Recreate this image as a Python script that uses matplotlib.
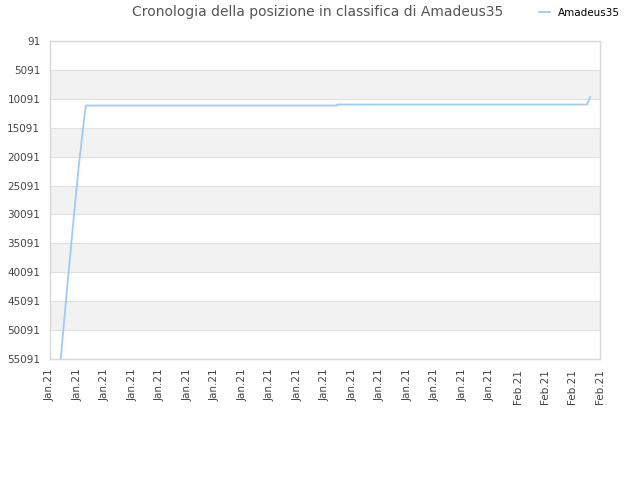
import matplotlib
matplotlib.use("Agg")
import matplotlib.pyplot as plt

title = "Cronologia della posizione in classifica di Amadeus35"
series_name = "Amadeus35"
tick_labels = ["Jan.21"] * 17 + ["Feb.21"] * 4
y_ticks = [91 + 5000 * i for i in range(12)]

# x positions in tick-index units, ranking values
x_pos = [0.39, 0.60, 0.825, 1.05, 1.27, 1.31, 10.44, 10.45, 19.53, 19.58, 19.64]
ranks = [55091, 44000, 32486, 21500, 12400, 11250, 11250, 11075, 11075, 10500, 9777]

fig = plt.figure(figsize=(6.4, 4.8), dpi=100)
ax = fig.add_axes([50/640, 1-359/480, 550/640, 318/480])

ax.set_ylim(55091, 91)
ax.set_xlim(0, 20)
for i in range(len(y_ticks) - 1):
    if i % 2 == 1:
        ax.axhspan(y_ticks[i], y_ticks[i+1], color="#f2f2f2", zorder=0, lw=0)
for y in y_ticks:
    ax.axhline(y, color="#e0e0e0", lw=0.8, zorder=1)

ax.plot(x_pos, ranks, color="#9ecbf5", lw=1.3, zorder=3, label=series_name)

ax.set_yticks(y_ticks)
ax.set_yticklabels([str(v) for v in y_ticks], fontsize=7.5, color="#444444")
ax.set_xticks(range(len(tick_labels)))
ax.set_xticklabels(tick_labels, rotation=90, fontsize=7.5, color="#444444")
ax.tick_params(length=0, pad=7)

for s in ax.spines.values():
    s.set_color("#d8d8d8")
    s.set_linewidth(1)

fig.text(318/640, 1-12/480, title, ha="center", va="center", fontsize=10, color="#555555")
fig.legend(loc="center left", bbox_to_anchor=(534/640, 1-13/480), frameon=False,
           fontsize=7.5, handlelength=1.0, handletextpad=0.8, borderpad=0)

fig.savefig("out.png", dpi=100)
